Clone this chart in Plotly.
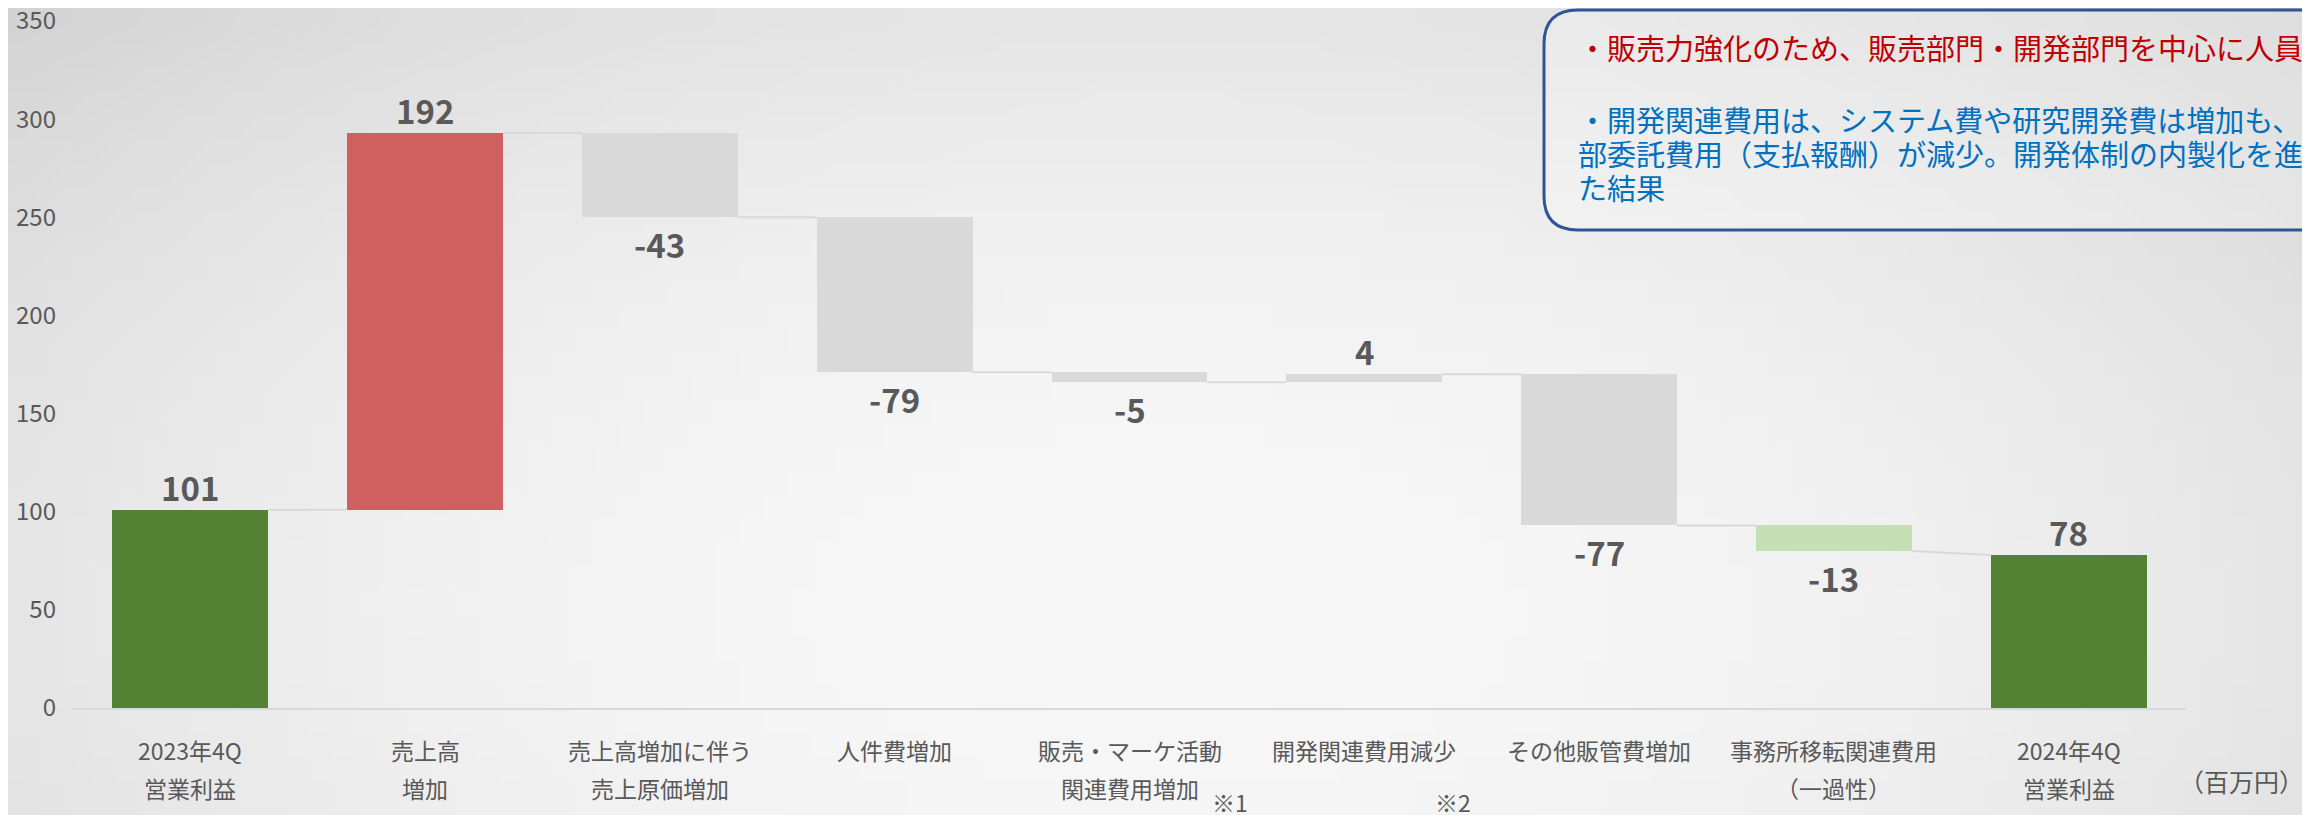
import base64, struct, zlib
import numpy as np
import plotly.graph_objects as go

# ---------------- data ----------------
cat_line1 = ["2023年4Q", "売上高", "売上高増加に伴う", "人件費増加", "販売・マーケ活動",
             "開発関連費用減少", "その他販管費増加", "事務所移転関連費用", "2024年4Q"]
cat_line2 = ["営業利益", "増加", "売上原価増加", "", "関連費用増加",
             "", "", "（一過性）", "営業利益"]
measures = ["absolute", "relative", "relative", "relative", "relative",
            "relative", "relative", "relative", "absolute"]
values = [101, 192, -43, -79, -5, 4, -77, -13, 78]
bar_colors = ["#548235", "#D05F5F", "#D9D9D9", "#D9D9D9", "#D9D9D9",
              "#D9D9D9", "#D9D9D9", "#C5E0B4", "#548235"]
note_marks = {4: "※1", 5: "※2"}
y_ticks = [0, 50, 100, 150, 200, 250, 300, 350]
unit_label = "（百万円）"
box_red = "・販売力強化のため、販売部門・開発部門を中心に人員増強"
box_blue = ["・開発関連費用は、システム費や研究開発費は増加も、外",
            "部委託費用（支払報酬）が減少。開発体制の内製化を進め",
            "た結果"]

# ---------------- layout geometry (reference pixel frame) ----------------
W, H = 2310, 815
OFF = 8                      # default page body margin of the html page
L, R, T, B = 73, 124, 21, 107
PW, PH = W - L - R, H - T - B
BAR_W = 0.664
FONT = "Noto Sans CJK JP"
GRAY_TXT = "#595959"


def px(x):
    return (x - L) / PW


def py(y):
    return (H - B - y) / PH


# waterfall geometry from data
starts, ends = [], []
level = 0
for m, v in zip(measures, values):
    if m == "absolute":
        s, e = 0, v
    else:
        s, e = level, level + v
    starts.append(s)
    ends.append(e)
    level = e
idx = list(range(len(values)))

fig = go.Figure()

# connectors
cx, cy = [], []
for i in range(len(values) - 1):
    nxt_start = ends[i] if measures[i + 1] == "relative" else values[i + 1]
    cx += [i + BAR_W / 2, i + 1 - BAR_W / 2, None]
    cy += [ends[i], nxt_start, None]
fig.add_trace(go.Scatter(x=cx, y=cy, mode="lines", line=dict(color="#D9D9D9", width=2),
                         hoverinfo="skip", showlegend=False))

fig.add_trace(go.Bar(x=idx, y=[e - s for s, e in zip(starts, ends)], base=starts,
                     width=BAR_W, marker=dict(color=bar_colors, line=dict(width=0)),
                     showlegend=False))

ann = []
# value labels
for i, v in enumerate(values):
    top = max(starts[i], ends[i])
    bot = min(starts[i], ends[i])
    if v >= 0:
        ann.append(dict(x=i, y=top, xref="x", yref="y", text=str(v), showarrow=False,
                        yanchor="middle", yshift=23,
                        font=dict(family=FONT, size=33, color=GRAY_TXT, weight="bold")))
    else:
        ann.append(dict(x=i, y=bot, xref="x", yref="y", text=str(v), showarrow=False,
                        yanchor="middle", yshift=-27,
                        font=dict(family=FONT, size=33, color=GRAY_TXT, weight="bold")))

# category labels
for i in idx:
    for txt, sh in ((cat_line1[i], -42), (cat_line2[i], -80)):
        if txt:
            ann.append(dict(x=i, y=0, xref="x", yref="y", text=txt, showarrow=False,
                            yanchor="middle", yshift=sh,
                            font=dict(family=FONT, size=23, color=GRAY_TXT)))
for i, mark in note_marks.items():
    ann.append(dict(x=i, y=0, xref="x", yref="y", text=mark, showarrow=False,
                    yanchor="middle", yshift=-94, xshift=100 if i == 4 else 89,
                    font=dict(family=FONT, size=23, color=GRAY_TXT)))

ann.append(dict(x=px(2306), y=py(781), xref="paper", yref="paper", text=unit_label,
                showarrow=False, xanchor="right", yanchor="middle",
                font=dict(family=FONT, size=25, color=GRAY_TXT)))

# text box content
ann.append(dict(x=px(1576), y=py(47), xref="paper", yref="paper", text=box_red,
                showarrow=False, xanchor="left", yanchor="middle",
                font=dict(family=FONT, size=29, color="#C00000")))
for k, line in enumerate(box_blue):
    ann.append(dict(x=px(1576), y=py(119 + 34 * k), xref="paper", yref="paper", text=line,
                    showarrow=False, xanchor="left", yanchor="middle",
                    font=dict(family=FONT, size=29, color="#0070C0")))

# rounded box path (paper coords)
bx0, bx1, by0, by1, r = 1544, 2360, 10, 230, 34
path = (f"M {px(bx0 + r)},{py(by0)} L {px(bx1 - r)},{py(by0)} "
        f"Q {px(bx1)},{py(by0)} {px(bx1)},{py(by0 + r)} L {px(bx1)},{py(by1 - r)} "
        f"Q {px(bx1)},{py(by1)} {px(bx1 - r)},{py(by1)} L {px(bx0 + r)},{py(by1)} "
        f"Q {px(bx0)},{py(by1)} {px(bx0)},{py(by1 - r)} L {px(bx0)},{py(by0 + r)} "
        f"Q {px(bx0)},{py(by0)} {px(bx0 + r)},{py(by0)} Z")
shapes = [dict(type="path", path=path, xref="paper", yref="paper",
               line=dict(color="#2F5597", width=3), fillcolor="rgba(255,255,255,0.25)",
               layer="above")]

# background gradient image
gw, gh = 96, 34
gx = np.linspace(0, 1, gw)[None, :]
gy = np.linspace(0, 1, gh)[:, None]
rr = np.sqrt(((gx - 0.5) / 0.6) ** 2 + ((gy - 0.75) / 0.9) ** 2)
val = np.clip(248 - 26 * np.minimum(rr, 1.3) ** 2, 0, 255).astype(np.uint8)
rgb = np.stack([val, val, val], axis=-1)
raw = b"".join(b"\x00" + rgb[j].tobytes() for j in range(gh))


def chunk(tag, data):
    c = struct.pack(">I", len(data)) + tag + data
    return c + struct.pack(">I", zlib.crc32(tag + data) & 0xFFFFFFFF)


png = (b"\x89PNG\r\n\x1a\n" + chunk(b"IHDR", struct.pack(">IIBBBBB", gw, gh, 8, 2, 0, 0, 0))
       + chunk(b"IDAT", zlib.compress(raw, 9)) + chunk(b"IEND", b""))
bg_uri = "data:image/png;base64," + base64.b64encode(png).decode()

fig.update_layout(
    width=W - OFF, height=H - OFF,
    margin=dict(l=L - OFF, r=R, t=T - OFF, b=B, pad=0, autoexpand=False),
    paper_bgcolor="#EEEEEE", plot_bgcolor="rgba(0,0,0,0)",
    images=[dict(source=bg_uri, xref="paper", yref="paper", x=px(OFF), y=py(OFF),
                 sizex=(W - OFF) / PW, sizey=(H - OFF) / PH, sizing="stretch", layer="below",
                 xanchor="left", yanchor="top")],
    xaxis=dict(range=[-0.5, len(values) - 0.5], showticklabels=False, showgrid=False,
               zeroline=False, showline=True, linecolor="#D9D9D9", linewidth=2,
               fixedrange=True, automargin=False),
    yaxis=dict(range=[0, 350], tickvals=y_ticks, showgrid=False, zeroline=False,
               showline=False, ticks="", ticklabelstandoff=16, automargin=False,
               ticklabeloverflow="allow",
               tickfont=dict(family=FONT, size=24, color=GRAY_TXT)),
    annotations=ann, shapes=shapes,
    bargap=0, showlegend=False,
)

fig.write_html("out.html")
